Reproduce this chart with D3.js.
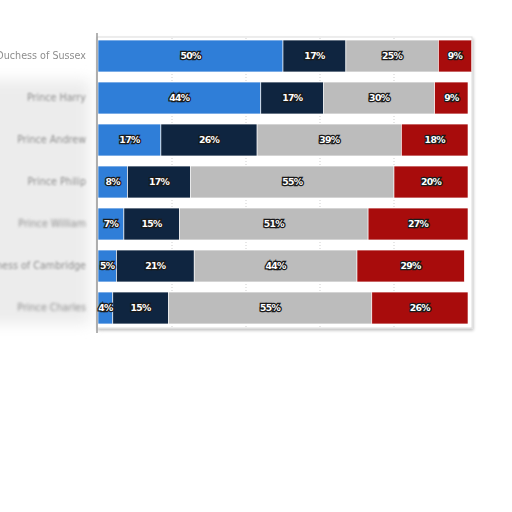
<!DOCTYPE html>
<html>
<head>
<meta charset="utf-8">
<script src="https://cdn.jsdelivr.net/npm/d3@7"></script>
<style>
  html, body { margin: 0; padding: 0; background: #fff; }
  #chart svg { display: block; }
</style>
</head>
<body>
<div id="chart"></div>
<script>
// stacked horizontal bars, percentages per person

const people = ['Duchess of Sussex', 'Prince Harry', 'Prince Andrew', 'Prince Philip', 'Prince William', 'Duchess of Cambridge', 'Prince Charles'];
const seriesNames = ['s1', 's2', 's3', 's4'];
const s1 = [50, 44, 17, 8, 7, 5, 4];
const s2 = [17, 17, 26, 17, 15, 21, 15];
const s3 = [25, 30, 39, 55, 51, 44, 55];
const s4 = [9, 9, 18, 20, 27, 29, 26];
const gridTicks = [20, 40, 60, 80];

(function () {
    const W = 512, H = 512;
    const COLORS = ['#2f7ed8', '#0f2540', '#bcbcbc', '#a80c0c'];
    const LABEL_BLUR = [0.35, 0.8, 0.9, 1.3, 1.5, 0.9, 1.8];

    const rows = people.map((p, i) => ({ name: p, s1: s1[i], s2: s2[i], s3: s3[i], s4: s4[i] }));
    const stacked = d3.stack().keys(seriesNames)(rows);

    const x = d3.scaleLinear().domain([0, 100]).range([98, 468]);
    const y = d3.scaleBand().domain(people).range([35, 329]).paddingInner(0.24).paddingOuter(0.12);

    const svg = d3.select('#chart').append('svg').attr('width', W).attr('height', H);
    const defs = svg.append('defs');

    const shadow = defs.append('filter').attr('id', 'shadow').attr('x', '-5%').attr('y', '-5%').attr('width', '110%').attr('height', '115%');
    shadow.append('feGaussianBlur').attr('in', 'SourceAlpha').attr('stdDeviation', 1.5);
    shadow.append('feOffset').attr('dx', 1).attr('dy', 2).attr('result', 'o');
    shadow.append('feComponentTransfer').append('feFuncA').attr('type', 'linear').attr('slope', 0.25);
    const m = shadow.append('feMerge');
    m.append('feMergeNode');
    m.append('feMergeNode').attr('in', 'SourceGraphic');

    LABEL_BLUR.forEach((b, i) => {
        defs.append('filter').attr('id', 'blur' + i).attr('x', '-20%').attr('y', '-50%').attr('width', '140%').attr('height', '200%')
            .append('feGaussianBlur').attr('stdDeviation', b);
    });
    defs.append('filter').attr('id', 'smudge').attr('x', '-50%').attr('y', '-50%').attr('width', '200%').attr('height', '200%')
        .append('feGaussianBlur').attr('stdDeviation', 7);

    // grey smudge behind the names
    svg.append('rect').attr('x', -20).attr('y', y(people[1]) - 2).attr('width', 110)
        .attr('height', y(people[6]) + y.bandwidth() - y(people[1]) + 2)
        .attr('fill', '#ececec').attr('filter', 'url(#smudge)');

    // plot panel
    svg.append('rect').attr('x', x(0) - 1).attr('y', 37).attr('width', 472 - x(0) + 1).attr('height', 291)
        .attr('fill', '#fff').attr('stroke', '#dcdcdc').attr('filter', 'url(#shadow)');

    svg.append('g').selectAll('line').data(gridTicks).join('line')
        .attr('x1', d => x(d)).attr('x2', d => x(d))
        .attr('y1', 38).attr('y2', 328)
        .attr('stroke', '#cfcfcf').attr('stroke-dasharray', '1,2');

    const layers = svg.append('g').selectAll('g').data(stacked).join('g')
        .attr('fill', (d, i) => COLORS[i]);

    layers.selectAll('rect').data(d => d).join('rect')
        .attr('x', d => x(d[0]))
        .attr('y', d => y(d.data.name))
        .attr('width', d => x(d[1]) - x(d[0]))
        .attr('height', y.bandwidth())
        .attr('stroke', '#fff').attr('stroke-width', 0.6);

    // axis line
    svg.append('line').attr('x1', 97).attr('x2', 97).attr('y1', 33).attr('y2', 333)
        .attr('stroke', '#9a9a9a').attr('stroke-width', 1.5);

    // value labels
    const vl = svg.append('g').attr('font-family', 'DejaVu Sans, Verdana, sans-serif')
        .attr('font-size', 9.3).attr('font-weight', 'bold').attr('text-anchor', 'middle');
    stacked.forEach(layer => {
        vl.selectAll(null).data(layer).join('text')
            .attr('x', d => (x(d[0]) + x(d[1])) / 2)
            .attr('y', d => y(d.data.name) + y.bandwidth() / 2)
            .attr('dy', '0.35em')
            .attr('fill', '#fff').attr('stroke', '#1a1a1a').attr('stroke-width', 2.6)
            .attr('paint-order', 'stroke').attr('letter-spacing', -0.7)
            .text(d => (d[1] - d[0]) + '%');
    });

    // category names
    svg.append('g').selectAll('text').data(people).join('text')
        .attr('x', 86)
        .attr('y', d => y(d) + y.bandwidth() / 2)
        .attr('dy', '0.35em')
        .attr('text-anchor', 'end')
        .attr('font-family', 'DejaVu Sans, Verdana, sans-serif')
        .attr('font-size', 9.6)
        .attr('fill', '#8e8e8e')
        .attr('filter', (d, i) => 'url(#blur' + i + ')')
        .text(d => d);
})();
</script>
</body>
</html>
